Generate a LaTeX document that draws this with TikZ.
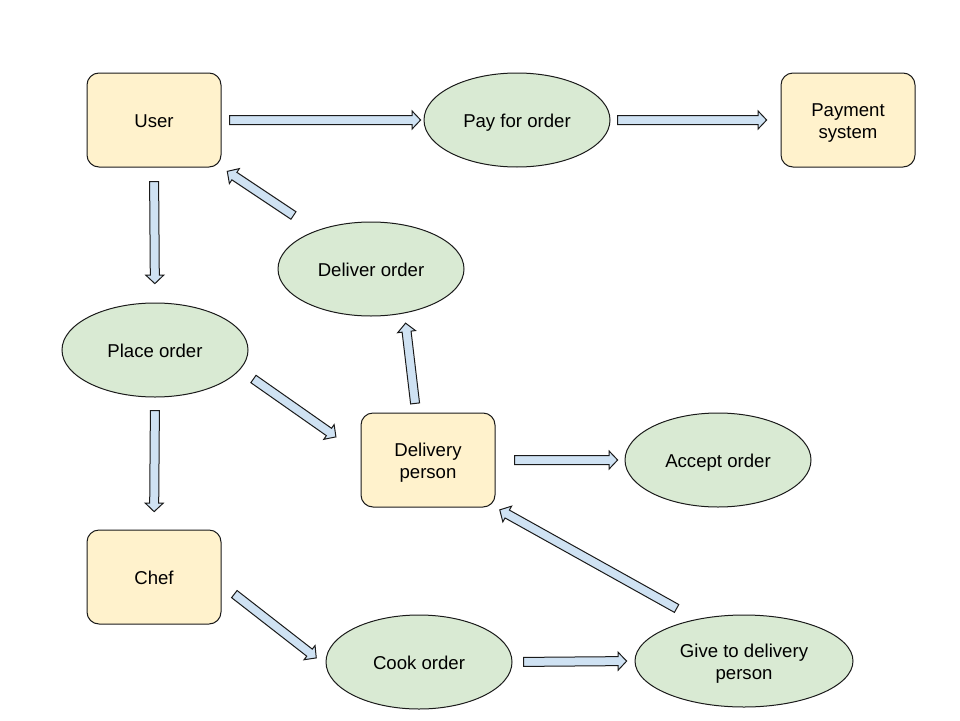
\documentclass[tikz,border=0pt]{standalone}
\usepackage{fontspec}
\setmainfont{Liberation Sans}
\usetikzlibrary{calc, shapes.geometric, shapes.arrows}
\definecolor{actorfill}{HTML}{FFF2CC}
\definecolor{taskfill}{HTML}{D9EAD3}
\definecolor{arrowfill}{HTML}{CFE2F3}
\definecolor{outline}{HTML}{1A1A1A}

\begin{document}
\begin{tikzpicture}[
    x=1pt, y=-1pt,
    every node/.style={text=black, font=\fontsize{18.6}{22}\selectfont},
    actor/.style={draw=outline, line width=1pt, fill=actorfill, rounded corners=12pt,
      minimum width=134pt, minimum height=94pt, align=center, inner sep=0pt,
      text height=15pt, text depth=0pt},
    task/.style={draw=outline, line width=1pt, fill=taskfill, ellipse,
      minimum width=186pt, minimum height=94pt, align=center, inner sep=0pt,
      text height=15pt, text depth=0pt},
    twoline/.style={text height=37pt},
    gaps/.code 2 args={\def\gapS{#1pt}\def\gapE{#2pt}},
    blockarrow/.style={gaps=#1, to path={
      let \p1=(\tikztostart), \p2=(\tikztotarget),
          \p3=($(\p1)!\gapS!(\p2)$), \p4=($(\p2)!\gapE!(\p1)$),
          \n1={atan2(\y4-\y3,\x4-\x3)}, \n2={veclen(\x4-\x3,\y4-\y3)}
      in node[single arrow, draw=outline, line width=1pt, fill=arrowfill,
              inner xsep=0pt, inner ysep=4pt, single arrow head extend=4.5pt,
              single arrow tip angle=93, text height=0pt, text depth=0pt,
              minimum height=\n2, rotate=\n1] at ($(\p3)!0.5!(\p4)$) {}
    }},
  ]

  \useasboundingbox (0,0) rectangle (960,720);

  % === Actors ===
  \node[actor] (user)     at (154,120) {User};
  \node[actor, twoline] (payment)  at (848,120) {Payment\\system};
  \node[actor, twoline] (delivery) at (428,460) {Delivery\\person};
  \node[actor] (chef)     at (154,577) {Chef};

  % === Use cases ===
  \node[task] (pay)     at (517,120) {Pay for order};
  \node[task] (deliver) at (371,269) {Deliver order};
  \node[task] (place)   at (155,350) {Place order};
  \node[task] (accept)  at (718,460) {Accept order};
  \node[task] (cook)    at (419,662) {Cook order};
  \node[task, twoline, minimum width=218pt, minimum height=92pt] (give) at (744,661)
    {Give to delivery\\person};

  % === Block arrows ===
  \path[blockarrow={6}{5}]   (user.east) to (pay.west);
  \path[blockarrow={5}{16}]  (pay.east) to (payment.west);
  \path[blockarrow={12}{21}] (user.south) to (place.north);
  \path[blockarrow={25}{9}]  (deliver.145) to (user.south east);
  \path[blockarrow={14}{32}] (place.-13) to (delivery.175);
  \path[blockarrow={11}{20}] (place.south) to (chef.north);
  \path[blockarrow={7}{12}]  (delivery.104) to (deliver.-53);
  \path[blockarrow={17}{9}]  (delivery.east) to (accept.west);
  \path[blockarrow={20}{7}]  (give.139) to (delivery.south east);
  \path[blockarrow={14}{14}] (chef.-6) to (cook.182);
  \path[blockarrow={9}{10}]  (cook.east) to (give.west);

\end{tikzpicture}
\end{document}
